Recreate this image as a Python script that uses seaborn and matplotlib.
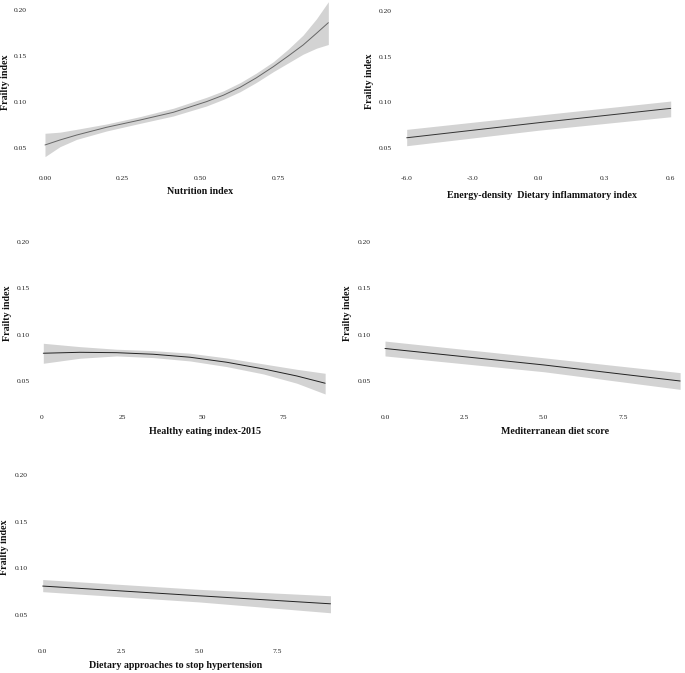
import matplotlib
matplotlib.use("Agg")
import matplotlib.pyplot as plt
import numpy as np
import pandas as pd
import seaborn as sns

# Values: fitted frailty index with 95% band
nutrition_x = [0.0, 0.048, 0.102, 0.198, 0.306, 0.413, 0.520, 0.575, 0.628, 0.680, 0.735, 0.783, 0.831, 0.874, 0.912]
nutrition_fit = [0.0533, 0.0587, 0.0641, 0.0725, 0.0804, 0.0888, 0.1004, 0.1075, 0.1160, 0.1262, 0.1384, 0.1500, 0.1620, 0.1747, 0.1862]
nutrition_lo = [0.0406, 0.0514, 0.0594, 0.0685, 0.0768, 0.0848, 0.0957, 0.1030, 0.1112, 0.1212, 0.1330, 0.1425, 0.1520, 0.1585, 0.1625]
nutrition_hi = [0.0660, 0.0672, 0.0703, 0.0761, 0.0841, 0.0932, 0.1051, 0.1122, 0.1210, 0.1314, 0.1438, 0.1575, 0.1728, 0.1905, 0.2090]

dii_x = [-6.0, 0.0, 6.0]
dii_fit = [0.0612, 0.0777, 0.0934]
dii_lo = [0.0525, 0.0695, 0.0842]
dii_hi = [0.0704, 0.0860, 0.1014]
dii_ticks = [-6, -3, 0, 3, 6]
dii_ticklabels = ["-6.0", "-3.0", "0.0", "0.3", "0.6"]

hei_x = [0.5, 11.9, 23.3, 34.7, 46.1, 57.5, 68.9, 79.3, 88.1]
hei_fit = [0.0799, 0.0809, 0.0805, 0.0788, 0.0756, 0.0702, 0.0630, 0.0554, 0.0476]
hei_lo = [0.0691, 0.0745, 0.0770, 0.0752, 0.0716, 0.0655, 0.0576, 0.0476, 0.0360]
hei_hi = [0.0906, 0.0870, 0.0842, 0.0827, 0.0799, 0.0748, 0.0684, 0.0626, 0.0583]

med_x = [0.0, 5.0, 9.3]
med_fit = [0.0850, 0.0673, 0.0500]
med_lo = [0.0770, 0.0600, 0.0410]
med_hi = [0.0930, 0.0750, 0.0590]

dash_x = [0.0, 5.0, 9.2]
dash_fit = [0.0810, 0.0706, 0.0620]
dash_lo = [0.0750, 0.0640, 0.0524]
dash_hi = [0.0880, 0.0775, 0.0706]

y_ticks = [0.05, 0.10, 0.15, 0.20]
y_ticklabels = ["0.05", "0.10", "0.15", "0.20"]

sns.set_theme(style="white")
plt.rcParams["font.family"] = ["Liberation Serif", "DejaVu Serif"]

W, H = 685, 673
fig = plt.figure(figsize=(W / 100, H / 100), dpi=100)


def make_ax(box, xv, xp, yv, yp):
    # box = left, right, top, bottom in pixels; xv/xp and yv/yp map values to pixels
    left, right, top, bottom = box
    ax = fig.add_axes([left / W, 1 - bottom / H, (right - left) / W, (bottom - top) / H])
    sx = (xp[1] - xp[0]) / (xv[1] - xv[0])
    ax.set_xlim(xv[0] - (xp[0] - left) / sx, xv[0] + (right - xp[0]) / sx)
    sy = (yp[1] - yp[0]) / (yv[0] - yv[1])
    ax.set_ylim(yv[0] - (bottom - yp[0]) / sy, yv[0] + (yp[0] - top) / sy)
    return ax


panels = [
    dict(x=nutrition_x, fit=nutrition_fit, lo=nutrition_lo, hi=nutrition_hi,
         box=(31, 340, 0, 170), xv=(0, 0.75), xp=(45, 278), yv=(0.20, 0.05), yp=(10, 148),
         xticks=[0, 0.25, 0.5, 0.75], xticklabels=["0.00", "0.25", "0.50", "0.75"],
         xlabel="Nutrition index", xl=(200, 192), yl=(6, 82), lc="#666666"),
    dict(x=dii_x, fit=dii_fit, lo=dii_lo, hi=dii_hi,
         box=(396, 685, 0, 170), xv=(-6, 6), xp=(406.7, 670.7), yv=(0.20, 0.05), yp=(11, 148),
         xticks=dii_ticks, xticklabels=dii_ticklabels,
         xlabel="Energy-density  Dietary inflammatory index", xl=(542, 195), yl=(370, 81), lc="#333333"),
    dict(x=hei_x, fit=hei_fit, lo=hei_lo, hi=hei_hi,
         box=(34, 340, 225, 409), xv=(0, 75), xp=(41.7, 283), yv=(0.20, 0.05), yp=(241.7, 381),
         xticks=[0, 25, 50, 75], xticklabels=["0", "25", "50", "75"],
         xlabel="Healthy eating index-2015", xl=(205, 431), yl=(8, 313), lc="#222222"),
    dict(x=med_x, fit=med_fit, lo=med_lo, hi=med_hi,
         box=(375, 685, 225, 409), xv=(0, 7.5), xp=(385, 623), yv=(0.20, 0.05), yp=(241.7, 381),
         xticks=[0, 2.5, 5, 7.5], xticklabels=["0.0", "2.5", "5.0", "7.5"],
         xlabel="Mediterranean diet score", xl=(555, 432), yl=(348, 313), lc="#222222"),
    dict(x=dash_x, fit=dash_fit, lo=dash_lo, hi=dash_hi,
         box=(32, 340, 455, 643), xv=(0, 7.5), xp=(42.7, 277.3), yv=(0.20, 0.05), yp=(475, 615),
         xticks=[0, 2.5, 5, 7.5], xticklabels=["0.0", "2.5", "5.0", "7.5"],
         xlabel="Dietary approaches to stop hypertension", xl=(176, 665), yl=(5, 547), lc="#222222"),
]

for p in panels:
    ax = make_ax(p["box"], p["xv"], p["xp"], p["yv"], p["yp"])
    ax.fill_between(p["x"], p["lo"], p["hi"], color="#d3d3d3", linewidth=0)
    sns.lineplot(x=p["x"], y=p["fit"], ax=ax, color=p["lc"], linewidth=0.7)
    ax.set_xticks(p["xticks"])
    ax.set_xticklabels(p["xticklabels"])
    ax.set_yticks(y_ticks)
    ax.set_yticklabels(y_ticklabels)
    ax.tick_params(axis="both", length=0, labelsize=5.4, labelcolor="#222222")
    ax.tick_params(axis="x", pad=4.5)
    ax.tick_params(axis="y", pad=3)
    for s in ax.spines.values():
        s.set_visible(False)
    ax.grid(False)
    ax.set_facecolor("white")
    ax.set_xlabel(p["xlabel"], fontsize=7.2, fontweight="bold", color="#111111")
    ax.set_ylabel("Frailty index", fontsize=7.2, fontweight="bold", color="#111111")
    ax.xaxis.set_label_coords(p["xl"][0] / W, 1 - p["xl"][1] / H, transform=fig.transFigure)
    ax.yaxis.set_label_coords(p["yl"][0] / W, 1 - p["yl"][1] / H, transform=fig.transFigure)
    ax.xaxis.label.set_verticalalignment("center")
    ax.xaxis.label.set_horizontalalignment("center")
    ax.yaxis.label.set_verticalalignment("center")
    ax.yaxis.label.set_horizontalalignment("center")

fig.savefig("out.png", dpi=100, facecolor="white")
